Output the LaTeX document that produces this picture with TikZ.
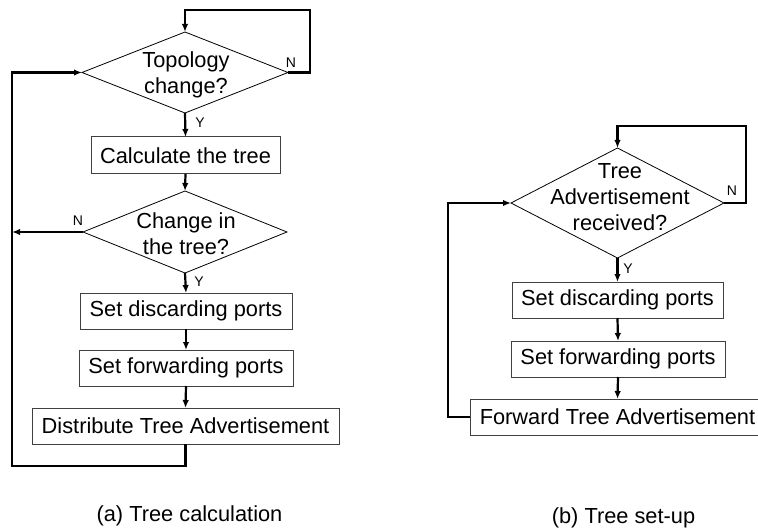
\documentclass[tikz,border=0pt]{standalone}
\usepackage{fontspec}
\setmainfont{Liberation Sans}
\usetikzlibrary{shapes.geometric,arrows.meta}
\begin{document}
\begin{tikzpicture}[x=1pt,y=-1pt,
  every node/.style={font=\fontsize{21.8}{26}\selectfont},
  dia/.style={draw=black,line width=0.8pt,diamond,inner sep=0pt,outer sep=0pt},
  txt/.style={align=center,inner sep=0pt},
  box/.style={draw=black!75,line width=1pt,rectangle,inner sep=0pt,outer sep=0pt,minimum height=36},
  conn/.style={line width=2.2pt,-{Latex[length=8pt,width=6.5pt]}},
  lbl/.style={font=\fontsize{14}{16}\selectfont,inner sep=0pt},
  captxt/.style={inner sep=0pt}]
\clip (0,0) rectangle (758,532);
% ---------- (a) ----------
\node[dia,minimum width=206,minimum height=81] (d1) at (185,72.5) {};
\node[txt] (d1t) at (186,75) {Topology\\change?};
\node[box,minimum width=189,minimum height=37] (calc) at (185.5,155.5) {Calculate the tree};
\node[dia,minimum width=204,minimum height=82] (d2) at (185,232) {};
\node[txt] (d2t) at (186,234) {Change in\\the tree?};
\node[box,minimum width=212] (disc) at (186,311) {Set discarding ports};
\node[box,minimum width=214] (fwd) at (186,368) {Set forwarding ports};
\node[box,minimum width=307] (dist) at (185.5,426) {Distribute Tree Advertisement};
\node[captxt] (capa) at (189.5,516) {(a) Tree calculation};

\draw[conn] (d1.east) -| (310,10) -| (d1.north);
\node[lbl] (n1) at (291,63) {N};
\draw[conn] (d1.south) -- (calc.north);
\node[lbl] (y1) at (200,123) {Y};
\draw[conn] (calc.south) -- (d2.north);
\draw[conn] (d2.west) -- (12,232);
\node[lbl] (n2) at (78,221) {N};
\draw[conn] (d2.south) -- (disc.north);
\node[lbl] (y2) at (199,282) {Y};
\draw[conn] (disc.south) -- (fwd.north);
\draw[conn] (fwd.south) -- (dist.north);
\draw[conn] (dist.south) |- (12,466) |- (d1.west);

% ---------- (b) ----------
\node[dia,minimum width=213,minimum height=110] (e1) at (617.5,203) {};
\node[txt] (e1t) at (620,197) {Tree\\Advertisement\\received?};
\node[box,minimum width=211] (disc2) at (617.5,300) {Set discarding ports};
\node[box,minimum width=214] (fwd2) at (618,359) {Set forwarding ports};
\node[box,minimum width=295] (fta) at (617.5,417) {Forward Tree Advertisement};
\node[captxt] (capb) at (623.5,518) {(b) Tree set-up};

\draw[conn] (e1.east) -| (746,126) -| (e1.north);
\node[lbl] (n3) at (732,191) {N};
\draw[conn] (e1.south) -- (disc2.north);
\node[lbl] (y3) at (628,269) {Y};
\draw[conn] (disc2.south) -- (fwd2.north);
\draw[conn] (fwd2.south) -- (fta.north);
\draw[conn] (fta.west) -| (448,203) -- (e1.west);
\end{tikzpicture}
\end{document}
